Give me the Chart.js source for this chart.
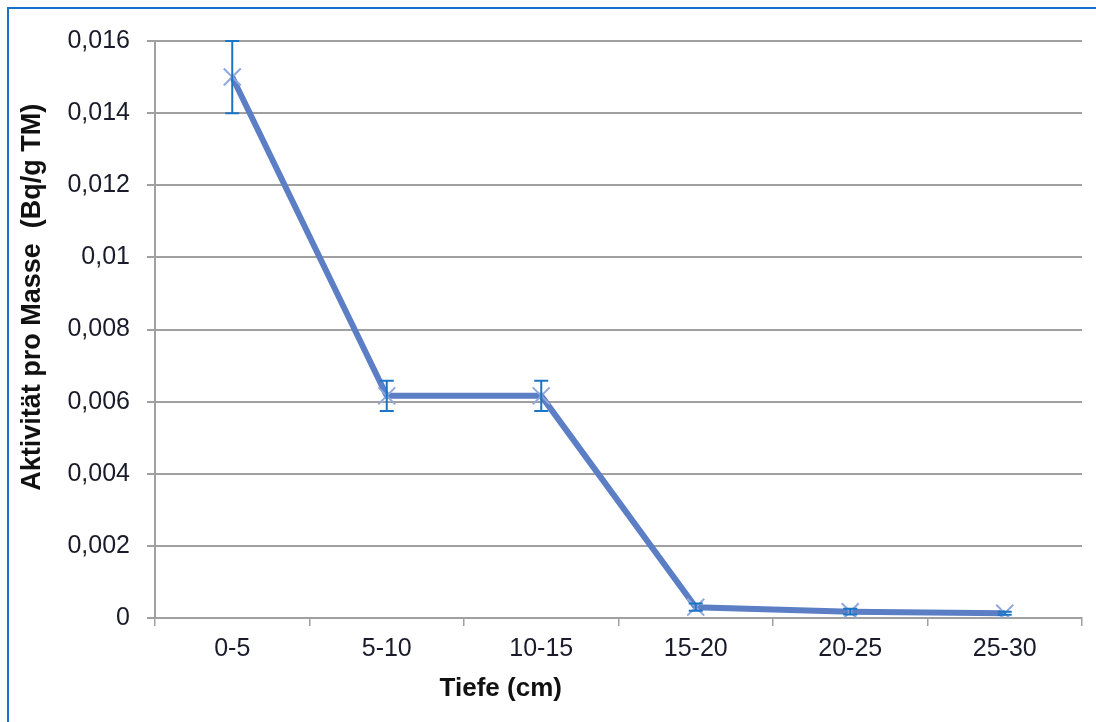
<!DOCTYPE html>
<html>
<head>
<meta charset="utf-8">
<script src="https://cdn.jsdelivr.net/npm/chart.js@4/dist/chart.umd.min.js"></script>
<style>
  html, body { margin: 0; padding: 0; background: #ffffff; overflow: hidden; }
  #wrap { position: relative; width: 1096px; height: 722px; overflow: hidden; background: #fff; }
  #frameTop { position: absolute; left: 7px; top: 7px; width: 1089px; height: 2px; background: #1873C8; pointer-events: none; }
  #frameLeft { position: absolute; left: 7px; top: 7px; width: 2px; height: 715px; background: #1873C8; pointer-events: none; }
  canvas { position: absolute; left: 0; top: 0; }
</style>
</head>
<body>
<div id="wrap">
  <canvas id="c" width="1096" height="722"></canvas>
  <div id="frameTop"></div>
  <div id="frameLeft"></div>
</div>
<script>
const categories = ["0-5", "5-10", "10-15", "15-20", "20-25", "25-30"];
const activity = [0.0150, 0.00616, 0.00616, 0.00030, 0.000175, 0.00013];
const errors = [0.0010, 0.00042, 0.00042, 0.00010, 0.00008, 0.00004];
const yTicks = [0, 0.002, 0.004, 0.006, 0.008, 0.01, 0.012, 0.014, 0.016];
const yTickLabels = ["0", "0,002", "0,004", "0,006", "0,008", "0,01", "0,012", "0,014", "0,016"];
const xTitle = "Tiefe (cm)";
const yTitle = "Aktivität pro Masse  (Bq/g TM)";

const errorBarPlugin = {
  id: 'errorBars',
  afterDatasetsDraw(chart) {
    const ctx = chart.ctx;
    const xs = chart.scales.x, ys = chart.scales.y;
    ctx.save();
    ctx.strokeStyle = '#1C74C4';
    ctx.lineWidth = 2;
    activity.forEach((v, i) => {
      const x = xs.getPixelForValue(i);
      const yt = ys.getPixelForValue(v + errors[i]);
      const yb = ys.getPixelForValue(Math.max(0, v - errors[i]));
      ctx.beginPath();
      ctx.moveTo(x, yt); ctx.lineTo(x, yb);
      ctx.moveTo(x - 7, yt); ctx.lineTo(x + 7, yt);
      ctx.moveTo(x - 7, yb); ctx.lineTo(x + 7, yb);
      ctx.stroke();
    });
    ctx.restore();
  }
};

const axisTitlePlugin = {
  id: 'axisTitles',
  afterDraw(chart) {
    const ctx = chart.ctx;
    const a = chart.chartArea;
    ctx.save();
    ctx.fillStyle = '#111111';
    ctx.font = 'bold 26px "Liberation Sans", Arial, sans-serif';
    ctx.textAlign = 'center';
    ctx.textBaseline = 'middle';
    ctx.fillText(xTitle, a.left + (a.right - a.left) * 0.373, 689);
    ctx.translate(33, a.top + (a.bottom - a.top) * 0.444);
    ctx.rotate(-Math.PI / 2);
    ctx.font = 'bold 27px "Liberation Sans", Arial, sans-serif';
    ctx.fillText(yTitle, 0, 0);
    ctx.restore();
  }
};

new Chart(document.getElementById('c'), {
  type: 'line',
  data: {
    labels: categories,
    datasets: [{
      data: activity,
      borderColor: '#5B7EC5',
      borderWidth: 6,
      tension: 0,
      pointStyle: 'crossRot',
      pointRadius: 12,
      pointBorderWidth: 2,
      pointBorderColor: '#8FA8DC',
      pointBackgroundColor: '#8FA8DC',
      pointHoverRadius: 12
    }]
  },
  options: {
    responsive: false,
    animation: false,
    devicePixelRatio: 1,
    layout: { padding: { top: 41, right: 13, left: 0, bottom: 0 } },
    plugins: { legend: { display: false }, tooltip: { enabled: false }, title: { display: false } },
    scales: {
      x: {
        type: 'category',
        offset: true,
        grid: { display: true, offset: true, drawOnChartArea: false, drawTicks: true, tickLength: 8, color: '#A0A0A0', lineWidth: 1.5 },
        border: { display: true, color: '#A0A0A0', width: 2 },
        ticks: { color: '#1a1a2a', font: { family: '"Liberation Sans", Arial, sans-serif', size: 25 }, padding: 8, maxRotation: 0 },
        afterFit(scale) { scale.height = 722 - 618; }
      },
      y: {
        min: 0, max: 0.016,
        afterBuildTicks(scale) { scale.ticks = yTicks.map(v => ({ value: v })); },
        grid: { color: '#A0A0A0', lineWidth: 2, tickLength: 8, drawTicks: true },
        border: { display: true, color: '#A0A0A0', width: 2 },
        ticks: {
          color: '#1a1a2a',
          font: { family: '"Liberation Sans", Arial, sans-serif', size: 25 },
          padding: 17,
          callback: (v, i) => yTickLabels[i]
        },
        afterFit(scale) { scale.width = 155; }
      }
    }
  },
  plugins: [errorBarPlugin, axisTitlePlugin]
});
</script>
</body>
</html>
